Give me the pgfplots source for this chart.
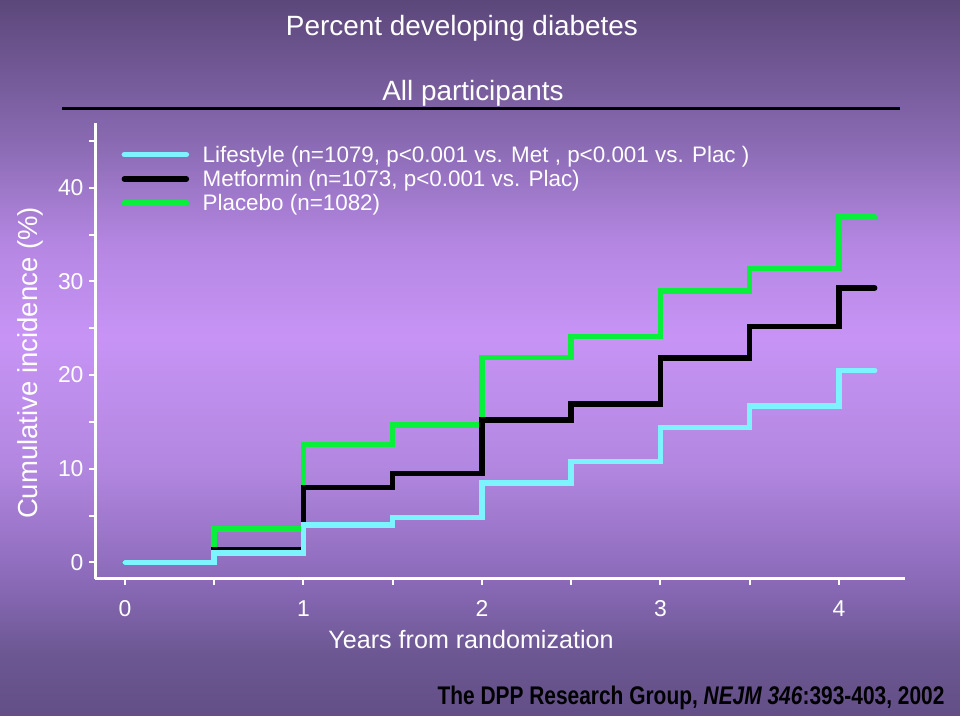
\documentclass[border=0pt]{standalone}
\usepackage{pgfplots}
\pgfplotsset{compat=1.18}
\usepackage{fontspec}
\setmainfont{Liberation Sans}
\newfontfamily\narrowfont[FakeStretch=0.82]{Liberation Sans}
\definecolor{lifecol}{RGB}{125,243,255}
\definecolor{placcol}{RGB}{10,238,60}
\pgfdeclareverticalshading{bgshade}{100bp}{%
rgb(0bp)=(0.39,0.31,0.53);
rgb(25bp)=(0.39,0.31,0.53);
rgb(29.2bp)=(0.42,0.34,0.57);
rgb(34.8bp)=(0.55,0.42,0.73);
rgb(42.5bp)=(0.70,0.53,0.88);
rgb(51.5bp)=(0.78,0.58,0.96);
rgb(57.8bp)=(0.71,0.53,0.89);
rgb(65.5bp)=(0.53,0.41,0.69);
rgb(75bp)=(0.36,0.28,0.48);
rgb(100bp)=(0.36,0.28,0.48)}
\begin{document}
\begin{tikzpicture}[x=1bp,y=1bp]
\begin{scope}[shift={(-125bp,-153.5bp)}]
\useasboundingbox (0,0) rectangle (960,716);
\shade[shading=bgshade] (0,0) rectangle (960,716);
\node[text=white, font=\fontsize{28}{32}\selectfont] at (462,688) {Percent developing diabetes};
\node[text=white, font=\fontsize{28}{32}\selectfont] at (473,623) {All participants};
\draw[black, line width=3bp] (62,607) -- (900,607);
\node[anchor=east, font=\narrowfont\fontsize{25.6}{28}\selectfont\bfseries] at (948,18) {The DPP Research Group, \textit{NEJM 346}:393-403, 2002};
\end{scope}
\begin{axis}[
  at={(0,0)}, anchor=origin,
  scale only axis, width=810bp, height=456bp,
  xmin=-0.168, xmax=4.37, ymin=-1.76, ymax=46.91,
  axis lines=left,
  axis line style={white, line width=3bp, -},
  tick align=outside,
  major tick length=6bp, minor tick length=6bp,
  tick style={white, line width=2bp},
  xtick={0,1,2,3,4}, minor xtick={0.5,1.5,2.5,3.5},
  ytick={0,10,20,30,40}, minor ytick={5,15,25,35,45},
  /pgf/number format/assume math mode=true,
  ticklabel style={text=white, font=\fontsize{23}{25}\selectfont},
  xticklabel style={yshift=-12bp},
  yticklabel style={xshift=-2bp},
  xlabel={Years from randomization},
  ylabel={Cumulative incidence (\%)},
  xlabel style={text=white, font=\fontsize{25.2}{30}\selectfont, at={(axis description cs:0.4642,-0.1338)}, anchor=center},
  ylabel style={text=white, font=\fontsize{27.6}{30}\selectfont, at={(axis description cs:-0.0802,0.4737)}, anchor=center},
  clip=false,
  reverse legend,
  legend cell align=left,
  legend style={at={(axis cs:-0.02,44.65)}, anchor=north west, draw=none, fill=none,
    text=white, font=\fontsize{22.5}{24}\selectfont, inner sep=0pt,
    nodes={inner sep=1.5bp}, row sep=3.5bp, column sep=12bp},
  legend image code/.code={\draw[#1, line width=5.5bp, line cap=round] (0bp,0bp) -- (62bp,0bp);},
]
\addplot[const plot, placcol, line width=5.5bp, line cap=round] coordinates {
(0,0) (0.5,3.6) (1,12.6) (1.5,14.7) (2,21.9) (2.5,24.1) (3,29.0) (3.5,31.4) (4,36.9) (4.2,36.9)};
\addlegendentry{Placebo (n=1082)}
\addplot[const plot, black, line width=5.5bp, line cap=round] coordinates {
(0,0) (0.5,1.4) (1,8.0) (1.5,9.5) (2,15.2) (2.5,16.9) (3,21.8) (3.5,25.2) (4,29.3) (4.2,29.3)};
\addlegendentry{Metformin (n=1073, p<0.001 vs. Plac)}
\addplot[const plot, lifecol, line width=5.5bp, line cap=round] coordinates {
(0,0) (0.5,1.0) (1,4.0) (1.5,4.8) (2,8.5) (2.5,10.8) (3,14.4) (3.5,16.7) (4,20.5) (4.2,20.5)};
\addlegendentry{Lifestyle (n=1079, p<0.001 vs. Met , p<0.001 vs. Plac )}
\end{axis}
\end{tikzpicture}
\end{document}
